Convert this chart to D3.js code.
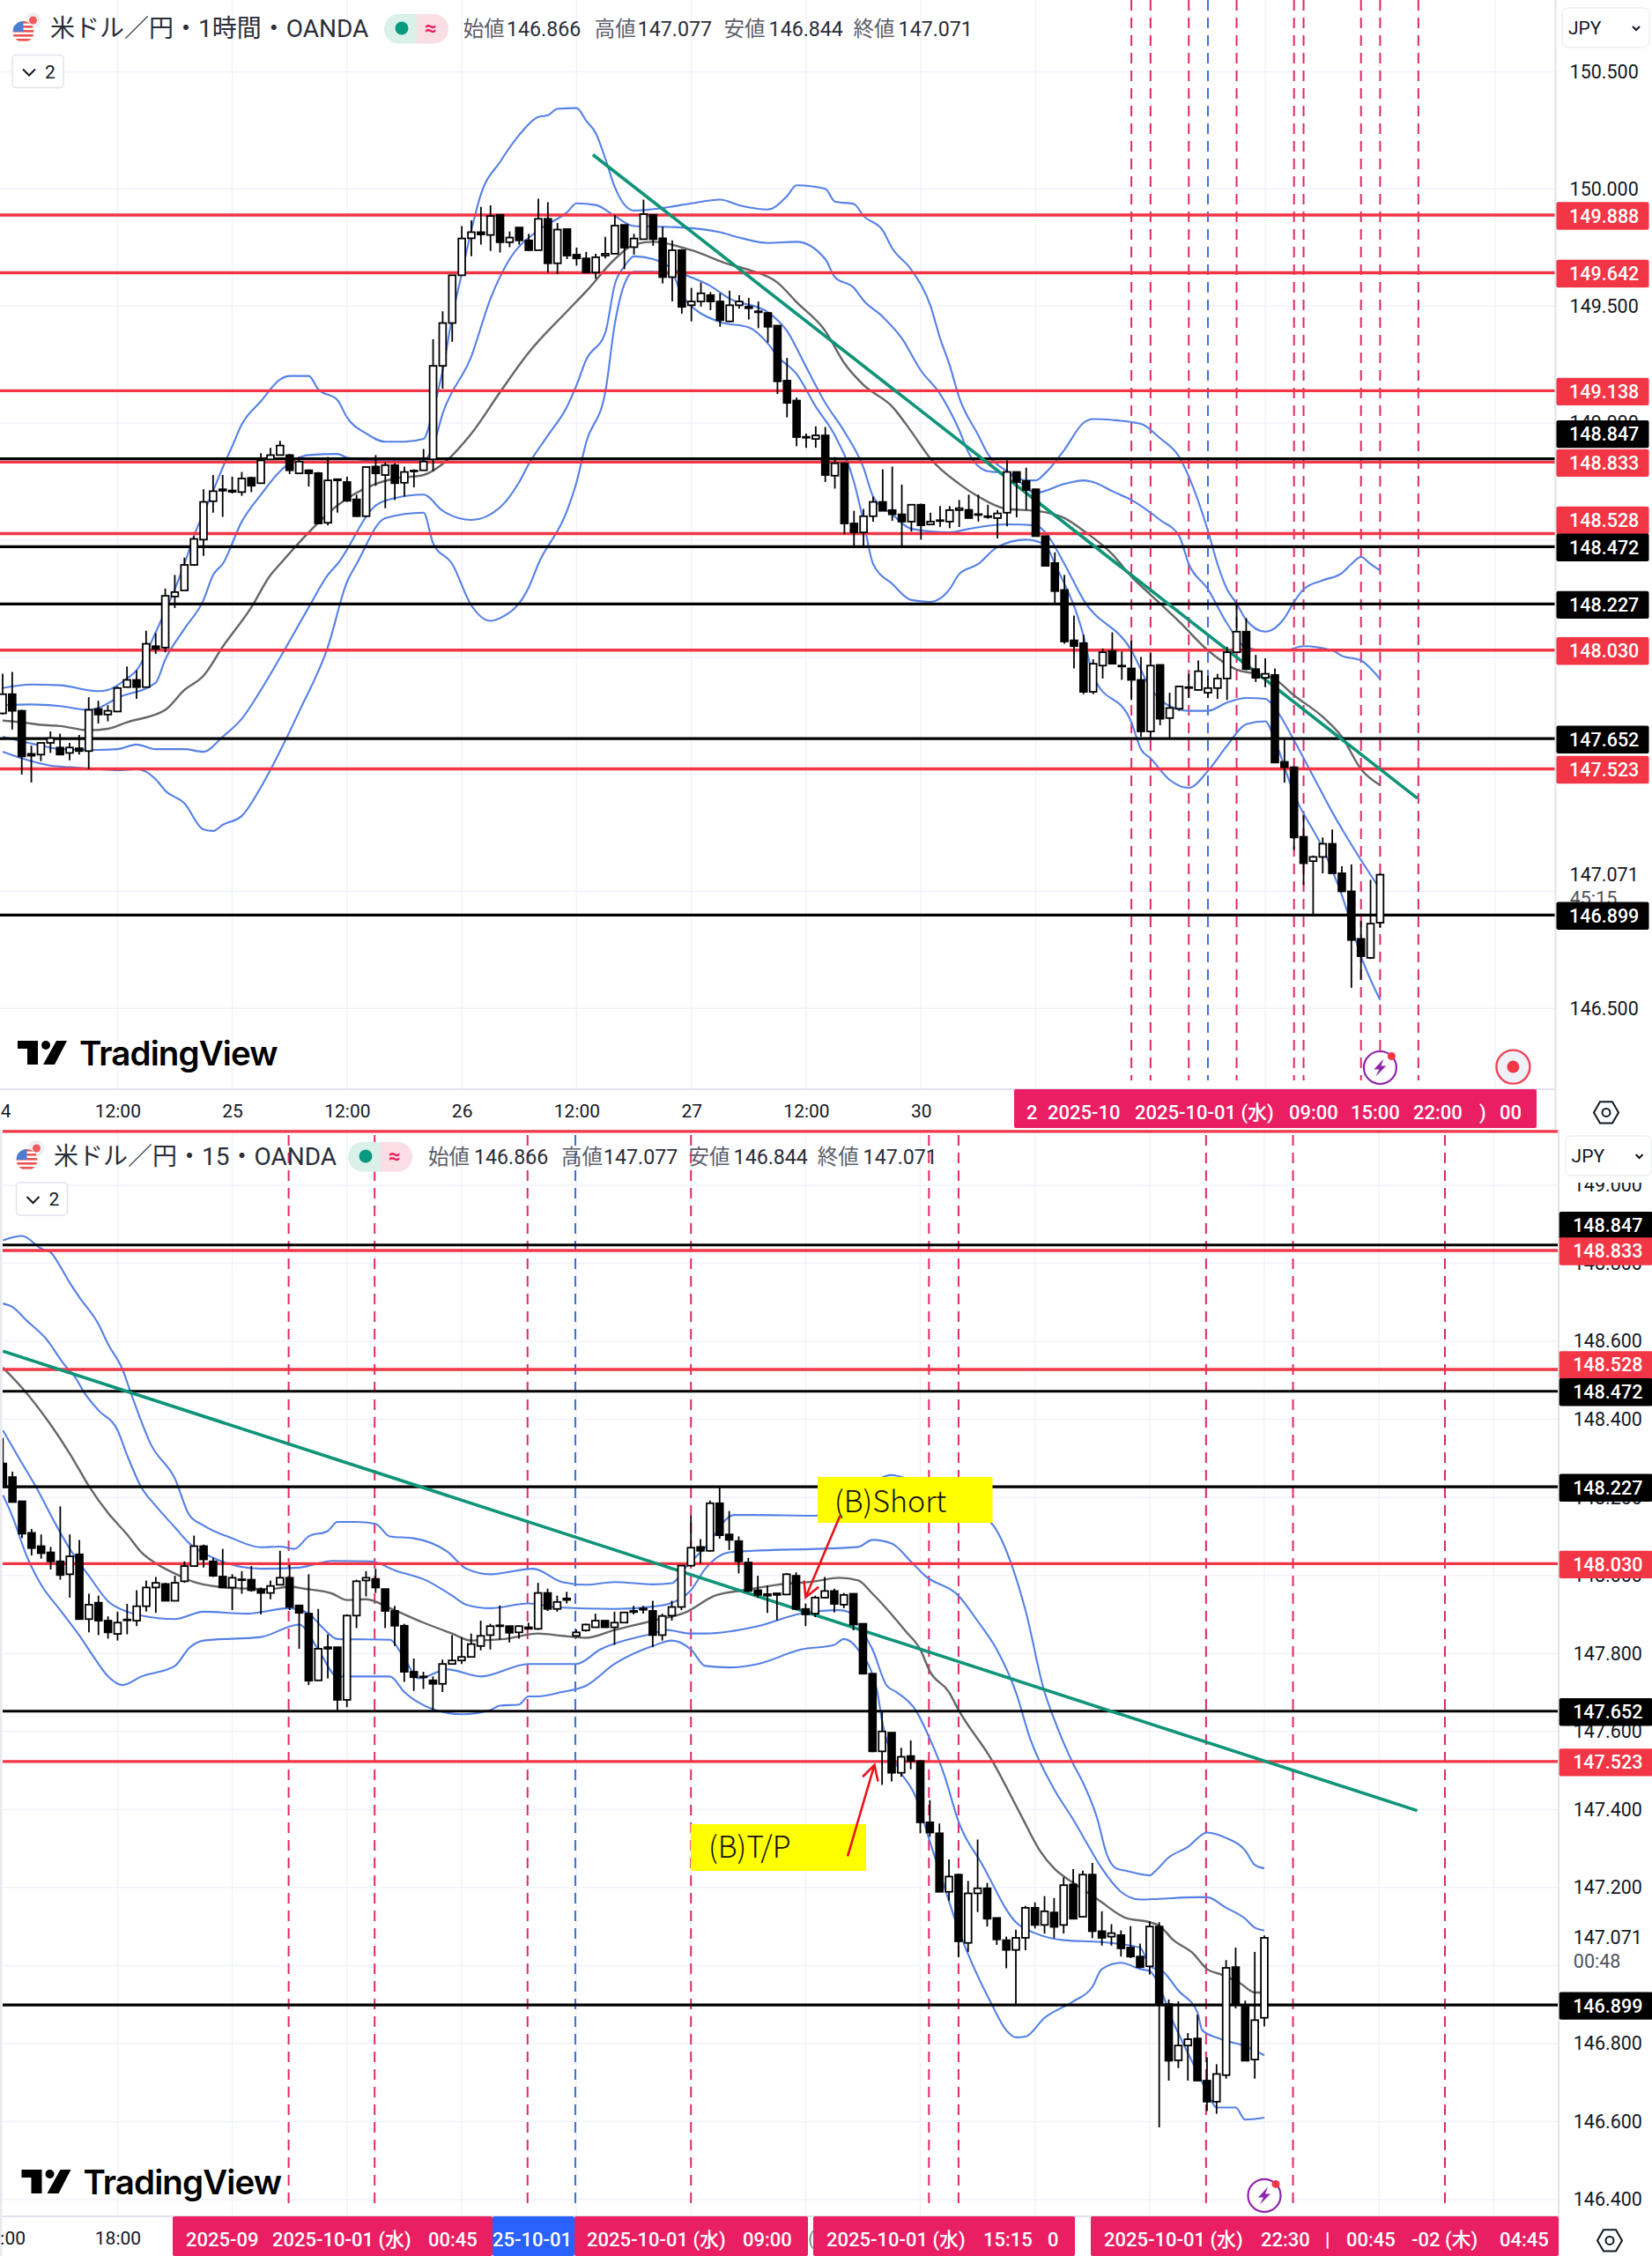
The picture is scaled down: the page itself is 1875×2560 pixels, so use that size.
<!DOCTYPE html>
<html><head><meta charset="utf-8">
<script src="https://d3js.org/d3.v7.min.js"></script>
<style>html,body{margin:0;padding:0;background:#fff}svg{display:block}text{font-family:Roboto,"Noto Sans CJK JP",sans-serif}</style>
</head><body><svg id="c" width="1875" height="2560"></svg>
<script>
// ---------- 1 hour panel ----------
const hOpen=[147.760,147.842,147.771,147.587,147.584,147.634,147.614,147.591,147.611,147.599,147.779,147.755,147.768,147.872,147.903,147.872,148.047,148.041,148.259,148.285,148.394,148.502,148.666,148.717,148.712,148.705,148.766,148.743,148.845,148.863,148.863,148.785,148.798,148.786,148.574,148.760,148.748,148.674,148.602,148.814,148.778,148.820,148.745,148.794,148.798,148.845,149.244,149.427,149.631,149.789,149.815,149.803,149.889,149.772,149.835,149.780,149.738,149.872,149.682,149.828,149.719,149.703,149.643,149.715,149.723,149.846,149.751,149.785,149.889,149.789,149.623,149.738,149.503,149.519,149.546,149.519,149.434,149.503,149.497,149.477,149.470,149.416,149.181,149.096,148.941,148.932,148.947,148.775,148.828,148.571,148.533,148.602,148.663,148.628,148.610,148.579,148.651,148.567,148.585,148.579,148.628,148.629,148.611,148.602,148.594,148.617,148.791,148.752,148.717,148.517,148.402,148.287,148.072,148.060,147.852,147.964,148.026,147.964,147.952,147.903,147.683,147.967,147.740,147.780,147.872,147.860,147.848,147.868,147.909,148.021,148.109,147.949,147.912,147.924,147.553,147.530,147.233,147.129,147.147,147.203,147.077,147.000,146.797,146.716,146.866];
const hHigh=[147.929,147.937,147.775,147.622,147.634,147.683,147.673,147.634,147.668,147.829,147.814,147.795,147.875,147.960,147.944,148.113,148.103,148.293,148.351,148.425,148.517,148.717,148.778,148.778,148.771,148.791,148.771,148.871,148.894,148.924,148.868,148.855,148.802,148.791,148.855,148.763,148.771,148.694,148.814,148.863,148.832,148.828,148.814,148.802,148.889,149.358,149.477,149.631,149.841,149.866,149.923,149.930,149.889,149.818,149.835,149.808,149.958,149.943,149.854,149.828,149.749,149.731,149.723,149.795,149.889,149.846,149.808,149.954,149.892,149.838,149.780,149.743,149.577,149.600,149.559,149.554,149.565,149.546,149.534,149.519,149.473,149.416,149.278,149.109,148.955,148.986,148.983,148.855,148.832,148.625,148.633,148.686,148.802,148.814,148.737,148.651,148.656,148.617,148.645,148.645,148.671,148.694,148.694,148.651,148.628,148.840,148.791,148.809,148.720,148.517,148.448,148.351,148.178,148.095,147.991,148.037,148.106,148.024,148.070,148.001,148.017,147.967,147.848,147.878,147.929,147.986,147.921,147.929,148.044,148.229,148.167,148.010,147.995,147.952,147.653,147.533,147.325,147.153,147.230,147.264,147.107,147.115,146.874,147.049,147.077];
const hLow=[147.755,147.691,147.499,147.465,147.556,147.591,147.584,147.560,147.584,147.522,147.717,147.726,147.765,147.872,147.822,147.872,148.014,148.021,148.210,148.285,148.390,148.433,148.617,148.599,148.699,148.689,148.705,148.740,148.843,148.863,148.782,148.785,148.729,148.567,148.563,148.617,148.663,148.599,148.599,148.732,148.636,148.671,148.686,148.725,148.797,148.794,149.147,149.347,149.631,149.712,149.762,149.735,149.728,149.751,149.762,149.735,149.738,149.643,149.636,149.700,149.672,149.643,149.616,149.703,149.723,149.657,149.719,149.785,149.757,149.596,149.519,149.467,149.434,149.497,149.482,149.411,149.431,149.488,149.442,149.405,149.344,149.124,149.024,148.901,148.894,148.894,148.748,148.720,148.525,148.471,148.471,148.579,148.625,148.582,148.471,148.536,148.502,148.563,148.556,148.551,148.556,148.594,148.579,148.591,148.507,148.559,148.597,148.628,148.517,148.390,148.232,148.057,147.952,147.842,147.842,147.909,147.972,147.903,147.817,147.660,147.657,147.709,147.657,147.771,147.826,147.857,147.826,147.822,147.817,148.021,147.944,147.894,147.872,147.550,147.464,147.176,147.027,146.900,147.077,147.077,146.997,146.588,146.623,146.711,146.844];
const hClose=[147.842,147.771,147.576,147.579,147.634,147.654,147.584,147.614,147.599,147.775,147.755,147.771,147.868,147.903,147.872,148.057,148.035,148.262,148.278,148.394,148.505,148.663,148.709,148.711,148.706,148.763,148.732,148.840,148.863,148.904,148.798,148.835,148.785,148.571,148.755,148.755,148.668,148.602,148.812,148.785,148.820,148.743,148.791,148.797,148.835,149.244,149.427,149.631,149.788,149.815,149.805,149.884,149.772,149.792,149.780,149.738,149.872,149.682,149.826,149.715,149.703,149.643,149.708,149.723,149.843,149.749,149.788,149.892,149.785,149.623,149.738,149.496,149.519,149.554,149.519,149.439,149.503,149.519,149.490,149.473,149.411,149.178,149.086,148.940,148.938,148.947,148.778,148.828,148.571,148.533,148.602,148.663,148.625,148.610,148.579,148.651,148.563,148.579,148.582,148.628,148.636,148.594,148.608,148.599,148.614,148.791,148.748,148.714,148.517,148.390,148.282,148.067,148.047,147.852,147.972,148.021,147.972,147.961,147.903,147.683,147.964,147.737,147.783,147.875,147.869,147.940,147.868,147.909,148.021,148.109,147.949,147.912,147.929,147.550,147.530,147.230,147.120,147.147,147.203,147.077,147.000,146.792,146.723,146.862,147.071];
const hOuterUpper=[[0,147.868],[3,147.883],[6,147.880],[10,147.855],[11,147.860],[13,147.909],[14,147.944],[16,148.106],[17,148.198],[18,148.290],[19,148.398],[20,148.517],[22,148.709],[23,148.809],[24,148.901],[25,148.994],[27,149.093],[29,149.186],[30,149.201],[32,149.201],[33,149.144],[35,149.098],[36,149.024],[38,148.955],[40,148.920],[42,148.920],[44,148.932],[45,149.055],[46,149.224],[47,149.454],[48,149.639],[49,149.823],[50,149.977],[52,150.115],[54,150.230],[56,150.307],[57,150.314],[58,150.342],[60,150.345],[61,150.291],[62,150.238],[63,150.130],[64,150.007],[66,149.907],[69,149.918],[72,149.938],[75,149.954],[77,149.930],[80,149.912],[82,149.969],[83,150.015],[86,150.000],[87,149.946],[89,149.935],[90,149.884],[92,149.823],[93,149.746],[95,149.654],[97,149.500],[98,149.362],[99,149.247],[100,149.109],[102,148.947],[103,148.868],[105,148.794],[107,148.755],[108,148.755],[109,148.786],[111,148.886],[113,149.001],[114,149.017],[116,149.013],[119,148.996],[121,148.935],[123,148.855],[124,148.771],[126,148.540],[127,148.398],[128,148.290],[129,148.229],[130,148.159],[132,148.109],[134,148.167],[135,148.236],[136,148.290],[138,148.328],[140,148.359],[141,148.398],[142,148.428],[143,148.398],[144,148.370]];
const hInnerUpper=[[0,147.795],[3,147.798],[6,147.791],[9,147.775],[10,147.783],[12,147.826],[16,147.891],[17,147.990],[19,148.121],[21,148.244],[22,148.351],[23,148.398],[25,148.579],[27,148.694],[29,148.794],[32,148.863],[35,148.868],[36,148.852],[39,148.840],[44,148.840],[45,148.901],[46,149.040],[49,149.285],[51,149.531],[53,149.700],[56,149.823],[59,149.900],[60,149.938],[62,149.931],[64,149.884],[66,149.841],[69,149.838],[71,149.835],[75,149.815],[77,149.792],[80,149.769],[83,149.774],[86,149.700],[87,149.623],[89,149.577],[90,149.523],[92,149.454],[94,149.362],[96,149.224],[98,149.124],[100,148.970],[101,148.871],[103,148.794],[105,148.786],[108,148.702],[111,148.740],[113,148.755],[114,148.748],[116,148.709],[118,148.671],[121,148.586],[123,148.517],[124,148.398],[126,148.290],[128,148.144],[130,148.041],[132,148.029],[134,148.029],[136,148.047],[139,148.029],[140,148.006],[142,147.986],[144,147.906]];
const hBasis=[[0,147.729],[2,147.722],[4,147.711],[6,147.706],[9,147.688],[11,147.694],[13,147.722],[17,147.775],[19,147.860],[21,147.921],[23,148.044],[26,148.213],[28,148.351],[29,148.398],[32,148.533],[35,148.648],[39,148.740],[41,148.763],[44,148.778],[46,148.825],[49,148.955],[52,149.132],[55,149.301],[59,149.477],[61,149.562],[64,149.700],[66,149.762],[68,149.774],[72,149.738],[76,149.677],[78,149.654],[81,149.600],[83,149.516],[86,149.393],[88,149.255],[90,149.162],[93,149.070],[95,148.963],[97,148.848],[100,148.740],[102,148.686],[105,148.633],[108,148.625],[111,148.594],[113,148.540],[116,148.440],[118,148.344],[120,148.267],[123,148.152],[126,148.029],[129,147.947],[131,147.929],[133,147.906],[135,147.837],[138,147.745],[140,147.660],[142,147.522],[144,147.453]];
const hInnerLower=[[0,147.660],[4,147.622],[6,147.607],[10,147.604],[12,147.607],[14,147.627],[16,147.607],[19,147.607],[21,147.596],[23,147.660],[25,147.737],[27,147.860],[29,147.998],[32,148.213],[34,148.351],[35,148.398],[39,148.648],[41,148.679],[44,148.694],[46,148.625],[49,148.586],[52,148.640],[54,148.748],[55,148.825],[57,148.947],[59,149.070],[60,149.162],[61,149.270],[63,149.385],[64,149.593],[65,149.669],[66,149.712],[68,149.700],[71,149.639],[74,149.585],[76,149.531],[80,149.473],[82,149.393],[84,149.239],[86,149.086],[88,148.963],[90,148.809],[91,148.686],[93,148.610],[95,148.548],[99,148.533],[101,148.548],[105,148.567],[108,148.563],[109,148.533],[111,148.398],[113,148.244],[118,148.029],[120,147.868],[122,147.791],[124,147.771],[126,147.771],[128,147.806],[130,147.826],[132,147.822],[133,147.783],[135,147.645],[137,147.492],[139,147.338],[141,147.199],[144,147.008]];
const hOuterLower=[[0,147.596],[2,147.568],[5,147.537],[7,147.530],[10,147.522],[12,147.517],[14,147.522],[16,147.479],[17,147.430],[19,147.376],[21,147.264],[22,147.258],[23,147.284],[25,147.322],[27,147.445],[29,147.599],[31,147.768],[34,148.044],[36,148.321],[37,148.398],[40,148.594],[44,148.617],[45,148.487],[47,148.398],[49,148.221],[51,148.155],[52,148.167],[55,148.298],[56,148.398],[59,148.625],[60,148.748],[61,148.917],[63,149.132],[64,149.424],[65,149.593],[66,149.646],[68,149.646],[70,149.636],[71,149.546],[75,149.431],[78,149.408],[80,149.339],[81,149.285],[83,149.209],[85,149.070],[87,148.947],[89,148.748],[90,148.579],[91,148.398],[93,148.313],[95,148.244],[97,148.236],[99,148.290],[100,148.355],[102,148.398],[104,148.471],[107,148.502],[109,148.479],[110,148.398],[113,148.090],[114,147.921],[118,147.722],[119,147.607],[120,147.568],[122,147.476],[124,147.442],[126,147.514],[128,147.622],[130,147.714],[132,147.726],[133,147.645],[135,147.415],[138,147.184],[140,146.984],[142,146.723],[144,146.536]];
const hTrend=[[61.7,150.146],[147.9,147.397]];
const hRedLevels=[149.888,149.642,149.138,148.833,148.528,148.030,147.523];
const hBlackLevels=[148.847,148.472,148.227,147.652,146.899];
const hPriceTicks=[150.5,150,149.5,149,146.5];
const hTimeIdx=[0.3,12,24,36,48,60,72,84,96];
const hTimeLabels=["4","12:00","25","12:00","26","12:00","27","12:00","30"];
const hGridIdx=[12,24,36,48,60,72,84,96,108,120,132,144,156];
const hPinkMarks=[118,120,124,129,135,136,142,144,148];
const hBlueMarks=[126];

// ---------- 15 minute panel ----------
const mOpen=[148.287,148.252,148.190,148.109,148.075,148.059,148.036,148.003,148.054,147.888,147.930,147.884,147.850,147.885,147.884,147.921,147.969,147.978,147.935,147.985,148.024,148.075,148.036,147.997,147.969,147.989,147.989,147.964,147.955,147.976,147.994,147.923,147.902,147.731,147.816,147.816,147.681,147.897,147.987,147.991,147.965,147.909,147.871,147.753,147.741,147.731,147.722,147.773,147.782,147.791,147.819,147.847,147.871,147.870,147.854,147.867,147.863,147.955,147.914,147.937,147.845,147.859,147.867,147.884,147.867,147.879,147.906,147.912,147.909,147.847,147.897,147.919,148.025,148.073,148.063,148.185,148.105,148.088,148.033,147.962,147.952,147.954,147.951,147.999,147.914,147.902,147.943,147.960,147.925,147.953,147.876,147.748,147.549,147.597,147.494,147.537,147.524,147.367,147.339,147.189,147.233,147.058,147.185,147.198,147.122,147.065,147.040,147.071,147.148,147.104,147.136,147.104,147.208,147.125,147.233,147.088,147.074,147.078,147.046,147.023,146.998,147.100,146.901,146.757,146.795,146.813,146.705,146.651,146.719,146.996,146.899,146.759,146.866];
const mHigh=[148.352,148.266,148.190,148.119,148.105,148.073,148.177,148.105,148.091,147.953,147.948,147.895,147.907,147.927,147.962,147.987,147.996,147.981,147.999,148.036,148.102,148.079,148.045,148.068,148.003,148.011,148.024,147.969,147.987,148.063,148.027,147.925,148.003,147.914,147.849,147.816,147.900,147.989,148.011,148.017,147.965,147.922,147.876,147.787,147.753,147.741,147.784,147.847,147.842,147.851,147.884,147.876,147.923,147.871,147.872,147.879,147.981,147.966,147.948,147.958,147.861,147.876,147.902,147.884,147.907,147.907,147.922,147.922,147.935,147.902,147.935,148.027,148.153,148.093,148.192,148.225,148.165,148.100,148.045,147.999,147.974,147.955,148.006,148.008,147.928,147.948,147.996,147.966,147.955,147.953,147.876,147.748,147.650,147.597,147.558,147.577,147.526,147.424,147.364,147.272,147.235,147.217,147.323,147.212,147.122,147.074,147.092,147.153,147.162,147.178,147.173,147.226,147.247,147.243,147.263,147.139,147.106,147.090,147.101,147.056,147.113,147.111,146.913,146.908,146.827,146.874,146.765,146.747,147.014,147.046,146.910,147.035,147.077];
const mLow=[148.225,148.188,148.096,148.051,148.043,148.015,147.989,147.943,147.888,147.854,147.847,147.838,147.833,147.849,147.870,147.907,147.904,147.935,147.935,147.981,148.024,148.020,147.996,147.969,147.911,147.953,147.958,147.900,147.939,147.976,147.911,147.812,147.719,147.730,147.736,147.650,147.662,147.865,147.946,147.955,147.865,147.819,147.727,147.704,147.709,147.655,147.701,147.771,147.773,147.790,147.808,147.810,147.835,147.828,147.838,147.863,147.860,147.909,147.907,147.928,147.842,147.856,147.867,147.867,147.822,147.879,147.900,147.902,147.816,147.833,147.884,147.911,148.022,148.031,148.061,148.094,148.065,148.005,147.958,147.943,147.904,147.885,147.950,147.911,147.870,147.893,147.941,147.905,147.916,147.859,147.748,147.547,147.463,147.472,147.484,147.503,147.339,147.330,147.189,147.166,147.021,147.035,147.137,147.100,147.053,146.993,146.901,147.039,147.095,147.082,147.070,147.082,147.120,147.123,147.070,147.051,147.051,147.023,147.019,146.993,146.977,146.585,146.705,146.737,146.705,146.705,146.627,146.620,146.710,146.890,146.756,146.710,146.844];
const mClose=[148.226,148.188,148.107,148.070,148.057,148.036,148.001,148.049,147.888,147.925,147.884,147.854,147.879,147.887,147.921,147.969,147.981,147.935,147.981,148.024,148.075,148.041,147.999,147.969,147.994,147.990,147.962,147.955,147.973,147.994,147.919,147.904,147.730,147.812,147.812,147.681,147.897,147.985,147.994,147.969,147.909,147.871,147.753,147.739,147.740,147.722,147.773,147.782,147.791,147.824,147.845,147.870,147.872,147.853,147.870,147.863,147.955,147.914,147.932,147.941,147.854,147.874,147.884,147.867,147.879,147.905,147.909,147.915,147.847,147.896,147.919,148.025,148.071,148.063,148.185,148.103,148.091,148.036,147.960,147.950,147.948,147.950,148.003,147.914,147.900,147.943,147.960,147.927,147.950,147.874,147.748,147.549,147.600,147.494,147.535,147.524,147.367,147.341,147.189,147.228,147.062,147.185,147.198,147.120,147.067,147.040,147.071,147.148,147.104,147.139,147.099,147.206,147.120,147.233,147.088,147.071,147.083,147.044,147.023,146.996,147.100,146.901,146.756,146.795,146.811,146.705,146.651,146.722,146.994,146.901,146.756,146.860,147.071];
const mOuterUpper=[[0,148.859],[2,148.870],[4,148.838],[5,148.828],[6,148.792],[7,148.750],[8,148.713],[10,148.644],[11,148.593],[12.5,148.529],[13.5,148.460],[15.5,148.335],[18,148.248],[19.5,148.155],[21,148.128],[24,148.095],[27,148.072],[29,148.074],[30.5,148.068],[32,148.100],[34,148.114],[35,148.137],[37,148.137],[39,148.132],[40.5,148.100],[43,148.095],[46.5,148.061],[48.5,148.017],[51,148.003],[55.5,148.017],[58.5,147.983],[61,147.976],[64,147.983],[68,147.977],[70,147.980],[71.5,148.022],[73.5,148.072],[76.5,148.155],[78.5,148.155],[85,148.153],[88.5,148.188],[93,148.257],[96.5,148.225],[103.5,148.132],[105.5,148.031],[107,147.911],[109,147.701],[110,147.632],[112,147.517],[113,147.470],[114.5,147.378],[115.5,147.286],[116.5,147.249],[117.5,147.243],[120,147.231],[120.5,147.240],[122,147.277],[124,147.304],[126,147.341],[128,147.327],[130,147.295],[131,147.258],[132,147.249]];
const mInnerUpper=[[0,148.697],[1,148.688],[2.5,148.653],[4.5,148.607],[6.5,148.538],[7.5,148.510],[8.5,148.469],[10,148.423],[12,148.372],[13,148.308],[14.5,148.225],[16,148.178],[18,148.123],[19.5,148.082],[22,148.045],[27,148.017],[31,148.020],[34.5,148.037],[38.5,148.036],[41,148.013],[44.5,147.985],[47,147.948],[48.5,147.925],[51,147.916],[55,147.928],[58,147.918],[64,147.914],[68,147.920],[70,147.930],[72,147.962],[73.5,148.017],[76,148.059],[78.5,148.063],[85,148.068],[89.5,148.073],[91,148.091],[93,148.082],[95,148.036],[96.5,147.999],[100,147.948],[102,147.883],[104,147.810],[106,147.701],[107.5,147.581],[110,147.452],[112,147.374],[113,147.332],[115,147.249],[117,147.189],[119,147.169],[121,147.171],[125,147.175],[126,147.175],[128,147.148],[130,147.120],[131,147.097],[132,147.090]];
const mBasis=[[0,148.533],[2,148.481],[5,148.386],[7,148.312],[9,148.229],[11,148.160],[13,148.105],[14.5,148.059],[16,148.031],[18.5,147.999],[20,147.983],[22.5,147.971],[26,147.966],[28,147.965],[30,147.971],[31.5,147.966],[34.5,147.953],[36,147.937],[38,147.939],[40.5,147.916],[44,147.879],[47,147.851],[49,147.833],[52.5,147.837],[56,147.851],[58.5,147.845],[61,147.840],[64,147.860],[68,147.884],[71.5,147.906],[74.5,147.948],[77.5,147.962],[81,147.976],[85,147.985],[87.5,147.994],[89.5,147.987],[91,147.953],[94.5,147.856],[96,147.810],[97,147.754],[99,147.701],[100,147.655],[103.5,147.526],[106.5,147.387],[108.5,147.295],[110,147.249],[112,147.212],[114.5,147.171],[117.5,147.122],[120,147.111],[121,147.102],[122.5,147.065],[124.5,147.032],[126,146.991],[127.5,146.977],[129.5,146.954],[131,146.931],[132,146.931]];
const mInnerLower=[[0,148.372],[1.5,148.308],[3.5,148.225],[5.5,148.132],[7,148.068],[9,147.999],[11,147.934],[13,147.907],[14.5,147.897],[18,147.888],[21,147.907],[25.5,147.902],[30,147.916],[32,147.902],[33.5,147.865],[35,147.837],[40.5,147.835],[42,147.787],[43.5,147.736],[46.5,147.759],[50,147.741],[55,147.773],[60,147.773],[62.5,147.810],[68,147.851],[69.5,147.860],[72,147.851],[73.5,147.851],[79,147.870],[83.5,147.902],[87.5,147.911],[88.5,147.906],[89.5,147.874],[91,147.810],[92.5,147.717],[93.5,147.701],[95.5,147.655],[97,147.581],[98.5,147.489],[100,147.369],[102.5,147.258],[106,147.111],[108,147.083],[111,147.065],[115,147.060],[119,147.046],[120,146.999],[121.5,146.982],[123,146.936],[125,146.880],[125.5,146.834],[127.5,146.811],[130,146.793],[132,146.770]];
const mOuterLower=[[0,148.206],[1,148.151],[2.5,148.049],[4,147.976],[6,147.911],[8,147.846],[9.5,147.791],[11,147.741],[12.5,147.719],[14.5,147.741],[18,147.768],[19.5,147.814],[21,147.833],[27,147.842],[31,147.874],[33,147.810],[35,147.741],[40.5,147.741],[42,147.701],[45,147.657],[48,147.644],[51,147.655],[52,147.666],[54,147.669],[55,147.690],[56,147.690],[58.5,147.701],[61,147.717],[64,147.773],[68,147.819],[70,147.833],[72,147.810],[73.5,147.768],[76,147.764],[79,147.773],[83.5,147.810],[87,147.822],[88,147.837],[89.5,147.810],[91.5,147.701],[92,147.627],[93.5,147.516],[95.5,147.433],[97,147.318],[98.5,147.203],[100,147.092],[103.5,146.899],[105,146.834],[106,146.816],[107,146.818],[109,146.866],[112,146.908],[114,146.945],[115,146.991],[117,147.007],[119,146.991],[120,146.986],[120.5,146.972],[122.5,146.853],[124.5,146.751],[126,146.677],[127,146.636],[129,146.636],[130,146.605],[132,146.610]];
const mTrend=[[0,148.575],[148,147.397]];
const mRedLevels=[149.138,148.833,148.528,148.030,147.523];
const mBlackLevels=[148.847,148.472,148.227,147.652,146.899];
const mPriceTicks=[149,148.8,148.6,148.4,148.2,148,147.8,147.6,147.4,147.2,146.8,146.6,146.4];
const mTimeIdx=[1,12];
const mTimeLabels=[":00","18:00"];
const mGridIdx=[12,24,36,48,60,72,84,96,108,120,132,144,156];
const mPinkMarks=[29.9,38.9,54.9,72,96.9,100,125.9,135,150.9];
const mBlueMarks=[59.9];

// level labels that the original pushes aside so they do not collide
const hLabelShift={148.847:-29,148.528:-16};
const mLabelShift={148.847:-23,148.528:-6};
const hLabelLevels=[149.888,149.642,149.138,148.847,148.833,148.528,148.472,148.227,148.030,147.652,147.523,146.899];
const mLabelLevels=[148.847,148.833,148.528,148.472,148.227,148.030,147.652,147.523,146.899];

const ohlcNames=["始値","高値","安値","終値"];
const ohlcValues=["146.866","147.077","146.844","147.071"];
const lastPrice=147.071;

const hBadges=[[1151,1744,"#e91e63"]];
const hBadgeText=[["2",1165],["2025-10",1189],["2025-10-01 (水)",1288],["09:00",1463],["15:00",1533],["22:00",1604],[")",1679],["00",1702]];
const mBadges=[[196,559,"#e91e63"],[559,652,"#2962ff"],[652,917,"#e91e63"],[923,1220,"#e91e63"],[1238,1769,"#e91e63"]];
const mBadgeText=[["2025-09",211],["2025-10-01 (水)",309],["00:45",486],["25-10-01",559],["2025-10-01 (水)",666],["09:00",843],["2025-10-01 (水)",938],["15:15",1116],["0",1189],["2025-10-01 (水)",1253],["22:30",1431],["|",1504],["00:45",1528],["-02 (木)",1602],["04:45",1702]];

const shortArrow=[[87.6,148.153],[84.0,147.944]];
const tpArrow=[[88.4,147.280],[91.2,147.514]];

const svg=d3.select("#c");
const defs=svg.append("defs");
const FONT_DARK="#131722";

function panel(o){
  const g=svg.append("g");
  const cid="clip"+o.id;
  defs.append("clipPath").attr("id",cid).append("rect").attr("x",o.left).attr("y",o.top).attr("width",o.right-o.left).attr("height",o.bottom-o.top);
  const x=d3.scaleLinear().domain(o.xDomain).range(o.xRange);
  const y=d3.scaleLinear().domain(o.yDomain).range(o.yRange);
  const plot=g.append("g").attr("clip-path",`url(#${cid})`);
  // grid
  plot.append("g").selectAll("line").data(o.grid).join("line")
    .attr("x1",d=>x(d)).attr("x2",d=>x(d)).attr("y1",o.top).attr("y2",o.bottom).attr("stroke","#f0f3fa").attr("stroke-width",1.5);
  plot.append("g").selectAll("line").data(o.gridY).join("line")
    .attr("x1",o.left).attr("x2",o.right).attr("y1",d=>y(d)).attr("y2",d=>y(d)).attr("stroke","#f0f3fa").attr("stroke-width",1.5);
  // vertical dashed marks
  const vm=(arr,col)=>plot.append("g").selectAll("line").data(arr).join("line")
    .attr("x1",d=>x(d)).attr("x2",d=>x(d)).attr("y1",o.markTop).attr("y2",o.markBottom)
    .attr("stroke",col).attr("stroke-width",2).attr("stroke-dasharray","12 8");
  vm(o.pink,"#e0286b"); vm(o.blue,"#3f6fe6");
  // bands
  const ln=d3.line().x(d=>x(d[0])).y(d=>y(d[1])).curve(d3.curveMonotoneX);
  const bandG=plot.append("g").attr("fill","none");
  o.bands.forEach(b=>bandG.append("path").attr("d",ln(b)).attr("stroke","#5580e6").attr("stroke-width",2.1));
  // levels
  plot.append("g").selectAll("line").data(o.red).join("line")
    .attr("x1",o.left).attr("x2",o.right).attr("y1",d=>y(d)).attr("y2",d=>y(d)).attr("stroke","#f23645").attr("stroke-width",3.4);
  plot.append("g").selectAll("line").data(o.black).join("line")
    .attr("x1",o.left).attr("x2",o.right).attr("y1",d=>y(d)).attr("y2",d=>y(d)).attr("stroke","#000").attr("stroke-width",3.2);
  bandG.append("path").attr("d",ln(o.basis)).attr("stroke","#666").attr("stroke-width",2.4);
  // trend
  plot.append("path").attr("d",d3.line().x(d=>x(d[0])).y(d=>y(d[1]))(o.trend)).attr("stroke","#0f9478").attr("stroke-width",3.6).attr("fill","none");
  // candles
  const idx=d3.range(o.open.length);
  const cg=plot.append("g");
  cg.selectAll("line").data(idx).join("line")
    .attr("x1",i=>x(i)).attr("x2",i=>x(i)).attr("y1",i=>y(o.high[i])).attr("y2",i=>y(o.low[i]))
    .attr("stroke","#000").attr("stroke-width",1.8);
  cg.selectAll("rect").data(idx).join("rect")
    .attr("x",i=>x(i)-3.9).attr("width",7.8)
    .attr("y",i=>y(Math.max(o.open[i],o.close[i])))
    .attr("height",i=>Math.max(1,Math.abs(y(o.open[i])-y(o.close[i]))))
    .attr("fill",i=>o.close[i]>=o.open[i]?"#fff":"#000").attr("stroke","#000").attr("stroke-width",1.8);
  // axis separators
  g.append("line").attr("x1",o.sepX).attr("x2",o.sepX).attr("y1",o.top).attr("y2",o.axisBottom).attr("stroke","#e0e3eb").attr("stroke-width",2);
  g.append("line").attr("x1",o.left).attr("x2",o.sepX).attr("y1",o.bottom).attr("y2",o.bottom).attr("stroke","#e0e3eb").attr("stroke-width",2);
  // time axis
  const ax=d3.axisBottom(x).tickValues(o.timeIdx).tickFormat((d,i)=>o.timeLabels[i]).tickSize(0).tickPadding(17);
  const ag=g.append("g").attr("transform",`translate(0,${o.bottom})`).call(ax);
  ag.select(".domain").remove();
  ag.selectAll("text").attr("font-size",21).attr("fill",FONT_DARK).attr("style","font-family:Roboto");
  // price axis
  const ay=d3.axisRight(y).tickValues(o.ticks).tickFormat(d3.format(".3f")).tickSize(0);
  const pg=g.append("g").attr("transform",`translate(${o.labelX},0)`).call(ay);
  pg.select(".domain").remove();
  pg.selectAll("text").attr("x",0).attr("text-anchor","middle").attr("font-size",21.5).attr("fill",FONT_DARK).attr("style","font-family:Roboto");
  g.append("text").attr("x",o.labelX).attr("y",y(lastPrice)+7).attr("text-anchor","middle").attr("font-size",21.5).attr("fill",FONT_DARK).text(lastPrice.toFixed(3));
  g.append("text").attr("x",o.labelX-39).attr("y",y(lastPrice)+34).attr("text-anchor","start").attr("font-size",21.5).attr("fill","#50535e").text(o.countdown);
  // JPY selector (covers ticks beneath)
  g.append("rect").attr("x",o.sepX+1).attr("y",o.jpyY).attr("width",1875-o.sepX).attr("height",o.jpyClip).attr("fill","#fff");
  g.append("rect").attr("x",o.jpyX).attr("y",o.jpyY).attr("width",o.jpyW).attr("height",45).attr("rx",7).attr("fill","#fff").attr("stroke","#eef0f4").attr("stroke-width",1.5);
  g.append("text").attr("x",o.jpyX+7).attr("y",o.jpyY+30).attr("font-size",21).attr("fill",FONT_DARK).text("JPY");
  g.append("path").attr("d",`M${o.jpyX+80},${o.jpyY+21} l4,4 l4,-4`).attr("fill","none").attr("stroke",FONT_DARK).attr("stroke-width",2);
  // level badges
  const badge=(v,col)=>{
    const cy=y(v)+(o.shift[v]||0)+1;
    g.append("rect").attr("x",o.boxX).attr("y",cy-15.7).attr("width",o.boxW).attr("height",31.4).attr("rx",2).attr("fill",col);
    g.append("text").attr("x",o.labelX).attr("y",cy+7.5).attr("text-anchor","middle").attr("font-size",21.5).attr("font-weight",500).attr("fill","#fff").text(v.toFixed(3));
  };
  o.labelLevels.forEach(v=>badge(v,o.black.includes(v)?"#000":"#f23645"));
  // time badges
  o.badges.forEach(b=>g.append("rect").attr("x",b[0]).attr("y",o.bottom).attr("width",b[1]-b[0]).attr("height",o.badgeH).attr("rx",2).attr("fill",b[2]));
  o.badgeText.forEach(t=>g.append("text").attr("x",t[1]).attr("y",o.bottom+34).attr("font-size",22).attr("font-weight",500).attr("fill","#fff").text(t[0]));
  // header
  flag(o.flagX,o.flagY);
  g.append("text").attr("x",o.titleX).attr("y",o.flagY+9).attr("font-size",28).attr("fill","#2a2e39").text(o.title);
  pill(o.pillX,o.flagY);
  o.ohlcX.forEach((p,i)=>{
    g.append("text").attr("x",p[0]).attr("y",o.flagY+8).attr("font-size",23.5).attr("fill","#5d606b").text(ohlcNames[i]);
    g.append("text").attr("x",p[1]).attr("y",o.flagY+8).attr("font-size",23.2).attr("fill","#2a2e39").text(ohlcValues[i]);
  });
  // collapse button
  g.append("rect").attr("x",o.foldX).attr("y",o.foldY).attr("width",58).attr("height",37).attr("rx",4).attr("fill","#fff").attr("stroke","#e0e3eb").attr("stroke-width",1.5);
  g.append("path").attr("d",`M${o.foldX+12},${o.foldY+16} l7,7 l7,-7`).attr("fill","none").attr("stroke",FONT_DARK).attr("stroke-width",2);
  g.append("text").attr("x",o.foldX+37).attr("y",o.foldY+26).attr("font-size",21).attr("fill",FONT_DARK).text("2");
  logo(o.logoX,o.logoY);
  bolt(x(o.open.length-1),o.boltY);
  gear(o.gearX,o.gearY);
  return {x,y,g};
}

function flag(cx,cy){
  const g=svg.append("g");
  const id="f"+cx;
  defs.append("clipPath").attr("id",id).append("circle").attr("cx",cx).attr("cy",cy+3).attr("r",12);
  g.append("circle").attr("cx",cx+11).attr("cy",cy-10).attr("r",9).attr("fill","#eef0f6");
  g.append("circle").attr("cx",cx+11).attr("cy",cy-10).attr("r",4.5).attr("fill","#f25b5b");
  const f=g.append("g").attr("clip-path",`url(#${id})`);
  f.append("rect").attr("x",cx-12).attr("y",cy-9).attr("width",24).attr("height",24).attr("fill","#fff");
  d3.range(5).forEach(k=>f.append("rect").attr("x",cx-12).attr("y",cy-9+k*5).attr("width",24).attr("height",2.6).attr("fill","#ef5350"));
  f.append("rect").attr("x",cx-12).attr("y",cy-9).attr("width",12).attr("height",12).attr("fill","#4a7fd4");
}
function pill(x,cy){
  const g=svg.append("g");
  const id="p"+x;
  defs.append("clipPath").attr("id",id).append("rect").attr("x",x).attr("y",cy-17).attr("width",73).attr("height",33.5).attr("rx",16.5);
  const c=g.append("g").attr("clip-path",`url(#${id})`);
  c.append("rect").attr("x",x).attr("y",cy-17).attr("width",37).attr("height",34).attr("fill","#daf1ea");
  c.append("rect").attr("x",x+37).attr("y",cy-17).attr("width",36).attr("height",34).attr("fill","#fbdde6");
  g.append("circle").attr("cx",x+20).attr("cy",cy-1).attr("r",7.5).attr("fill","#089981");
  g.append("text").attr("x",x+53).attr("y",cy+7).attr("text-anchor","middle").attr("font-size",24).attr("font-weight",700).attr("fill","#e91e63").text("≈");
}
function logo(x,y){
  const g=svg.append("g").attr("transform",`translate(${x},${y})`);
  g.append("path").attr("d","M0,0 H23 V27 H11 V9 H0 Z").attr("fill","#000");
  g.append("circle").attr("cx",32).attr("cy",5).attr("r",5).attr("fill","#000");
  g.append("path").attr("d","M44,0 H56 L42,27 H29 Z").attr("fill","#000");
  g.append("text").attr("x",70).attr("y",28).attr("font-size",38.5).attr("font-weight",600).attr("fill","#000").attr("style","font-family:Inter").attr("letter-spacing",-0.9).text("TradingView");
}
function bolt(cx,cy){
  const g=svg.append("g").attr("transform",`translate(${cx},${cy})`);
  g.append("circle").attr("r",18.5).attr("fill","#fff").attr("stroke","#8e24aa").attr("stroke-width",2.2);
  g.append("path").attr("d","M4,-10 L-7,2 H-1 L-5,10 L7,-2 H1 Z").attr("fill","#8e24aa");
  g.append("circle").attr("cx",13).attr("cy",-13).attr("r",4.5).attr("fill","#f23645");
}
function gear(cx,cy){
  const g=svg.append("g").attr("transform",`translate(${cx},${cy})`);
  const hx=d3.range(6).map(i=>[14*Math.cos(i*Math.PI/3),14*Math.sin(i*Math.PI/3)]);
  g.append("path").attr("d","M"+hx.join("L")+"Z").attr("fill","none").attr("stroke",FONT_DARK).attr("stroke-width",2);
  g.append("circle").attr("r",4.5).attr("fill","none").attr("stroke",FONT_DARK).attr("stroke-width",2);
}

const hPanel=panel({id:"h",left:0,right:1765,top:0,bottom:1236,axisBottom:1282,sepX:1765.5,
  xDomain:[0,144],xRange:[3,1566.4],yDomain:[150,146.5],yRange:[214.3,1144.3],
  grid:hGridIdx,gridY:[150.5,150,149.5,149,148.5,148,147.5,147,146.5],
  markTop:0,markBottom:1226,pink:hPinkMarks,blue:hBlueMarks,
  bands:[hOuterUpper,hInnerUpper,hInnerLower,hOuterLower],basis:hBasis,red:hRedLevels,black:hBlackLevels,trend:hTrend,
  open:hOpen,high:hHigh,low:hLow,close:hClose,timeIdx:hTimeIdx,timeLabels:hTimeLabels,ticks:hPriceTicks,
  labelX:1820.7,countdown:"45:15",jpyX:1773,jpyY:9,jpyW:99,jpyClip:45,shift:hLabelShift,boxX:1766.5,boxW:105,labelLevels:hLabelLevels,
  badges:hBadges,badgeText:hBadgeText,badgeH:44,flagX:26.5,flagY:33,titleX:57,title:"米ドル／円・1時間・OANDA",pillX:436,
  ohlcX:[[525.7,575],[674.7,723.7],[821.6,872.6],[968.6,1019.6]],foldX:14,foldY:62.5,logoX:20,logoY:1181,boltY:1211.5,gearX:1823,gearY:1262.4});
// record icon
const rec=svg.append("g").attr("transform","translate(1717.4,1210.6)");
rec.append("circle").attr("r",19).attr("fill","#eef1f8").attr("stroke","#f0455a").attr("stroke-width",2.4);
rec.append("circle").attr("r",7).attr("fill","#f23645");

svg.append("rect").attr("x",0).attr("y",1282).attr("width",2.5).attr("height",1278).attr("fill","#e8eaf0");
const mPanel=panel({id:"m",left:3,right:1768.5,top:1282,bottom:2515,axisBottom:2560,sepX:1769,
  xDomain:[0,132],xRange:[3.3,1435],yDomain:[149,146.4],yRange:[1345,2496],
  grid:mGridIdx,gridY:[149,148.8,148.6,148.4,148.2,148,147.8,147.6,147.4,147.2,147,146.8,146.6,146.4],
  markTop:1288,markBottom:2506,pink:mPinkMarks,blue:mBlueMarks,
  bands:[mOuterUpper,mInnerUpper,mInnerLower,mOuterLower],basis:mBasis,red:mRedLevels,black:mBlackLevels,trend:mTrend,
  open:mOpen,high:mHigh,low:mLow,close:mClose,timeIdx:mTimeIdx,timeLabels:mTimeLabels,ticks:mPriceTicks,
  labelX:1824.8,countdown:"00:48",jpyX:1776.6,jpyY:1289,jpyW:98,jpyClip:53,shift:mLabelShift,boxX:1769.7,boxW:106,labelLevels:mLabelLevels,
  badges:mBadges,badgeText:mBadgeText,badgeH:45,flagX:30.5,flagY:1313,titleX:61,title:"米ドル／円・15・OANDA",pillX:395,
  ohlcX:[[486,538],[637,685],[781.6,832.6],[927.8,979.6]],foldX:18.5,foldY:1342,logoX:24.5,logoY:2462,boltY:2491.4,gearX:1827,gearY:2542.4});
mPanel.g.append("text").attr("x",917).attr("y",2548).attr("font-size",22).attr("fill","#888").text("(");

// annotations
function note(x0,x1,y0,y1,label,tx,ty){
  svg.append("rect").attr("x",x0).attr("y",y0).attr("width",x1-x0).attr("height",y1-y0).attr("fill","#ffff00");
  svg.append("text").attr("x",tx).attr("y",ty).attr("font-size",34).attr("font-weight",300).attr("fill","#111").attr("style",'font-family:"Noto Sans CJK JP"').text(label);
}
function arrow(pts){
  const a=[mPanel.x(pts[0][0]),mPanel.y(pts[0][1])],b=[mPanel.x(pts[1][0]),mPanel.y(pts[1][1])];
  const ang=Math.atan2(a[1]-b[1],a[0]-b[0]);
  const h=d=>[b[0]+19*Math.cos(ang+d),b[1]+19*Math.sin(ang+d)];
  const s=svg.append("g").attr("stroke","#e8131b").attr("stroke-width",2.6).attr("fill","none");
  s.append("path").attr("d",`M${a}L${b}`);
  s.append("path").attr("d",`M${h(.5)}L${b}L${h(-.5)}`);
}
note(928,1126.5,1676,1728,"(B)Short",947,1716);
arrow(shortArrow);
note(784,983,2070,2123,"(B)T/P",804,2108);
arrow(tpArrow);
</script></body></html>
